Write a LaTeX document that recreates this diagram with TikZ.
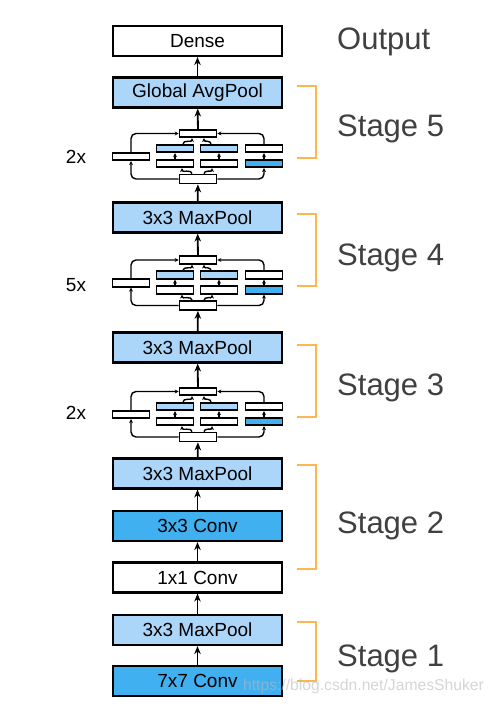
\documentclass[tikz,border=0pt]{standalone}
\usepackage{fontspec}
\setmainfont{Liberation Sans}
\usepackage{tikz}
\usetikzlibrary{arrows.meta, positioning, calc}
\usepackage{xcolor}

\definecolor{lightblue}{RGB}{171,214,250}
\definecolor{darkblue}{RGB}{64,176,240}
\definecolor{stageorange}{RGB}{255,183,77}
\definecolor{stagegray}{RGB}{64,64,64}

% one inception block, #1 = prefix, #2 = y of its output box
\newcommand{\incblock}[2]{%
  \node[ibox] (#1top) at (198,#2) {};
  \node[ibox, fill=lightblue] (#1a1) at (175,#2+15) {};
  \node[ibox, fill=lightblue] (#1b1) at (219,#2+15) {};
  \node[ibox] (#1c1) at (264,#2+15) {};
  \node[ibox] (#1a2) at (175,#2+30) {};
  \node[ibox] (#1b2) at (219,#2+30) {};
  \node[ibox, fill=darkblue] (#1c2) at (264,#2+30) {};
  \node[ibox, minimum height=9pt] (#1bot) at (198,#2+45.5) {};
  \node[ibox] (#1left) at (131,#2+23) {};
  \draw[iarr] (#1bot.west) -| (#1left.south);
  \draw[iarr] (#1left.north) |- (#1top.west);
  \draw[iarr] (#1bot.east) -| (#1c2.south);
  \draw[iarr] (#1c1.north) |- (#1top.east);
  \draw[iarr] (#1a2) -- (#1a1);
  \draw[iarr] (#1b2) -- (#1b1);
  \draw[iarr] (#1c2) -- (#1c1);
  \draw[iarr] ([xshift=-6pt]#1bot.north) to[out=90,in=-90] ([xshift=7pt]#1a2.south);
  \draw[iarr] ([xshift=6pt]#1bot.north) to[out=90,in=-90] ([xshift=-7pt]#1b2.south);
  \draw[iarr] ([xshift=8pt]#1a1.north) to[out=90,in=-90] ([xshift=-6pt]#1top.south);
  \draw[iarr] ([xshift=-8pt]#1b1.north) to[out=90,in=-90] ([xshift=6pt]#1top.south);
}

\begin{document}
\begin{tikzpicture}[x=1pt, y=-1pt,
    mbox/.style={draw, line width=2.2pt, fill=white, minimum width=169pt, minimum height=30pt,
      inner sep=0pt, font=\fontsize{19}{22}\selectfont},
    ibox/.style={draw, line width=1.7pt, fill=white, minimum width=37pt, minimum height=7.5pt, inner sep=0pt},
    marr/.style={line width=1.8pt, -{Stealth[length=8pt, width=6.5pt]}},
    iarr/.style={line width=1.4pt, rounded corners=5pt, -{Stealth[length=4pt, width=3.8pt]}},
    bracket/.style={draw=stageorange, line width=2pt},
    stagelabel/.style={anchor=west, inner sep=0pt, text=stagegray, font=\fontsize{31}{34}\selectfont},
    rep/.style={inner sep=0pt, font=\fontsize{19}{22}\selectfont}]
  \useasboundingbox (0,0) rectangle (494,708);

  % main column
  \node[mbox] (dense) at (197.5,41) {Dense};
  \node[mbox, fill=lightblue] (gap) at (197.5,92.5) {Global AvgPool};
  \node[mbox, fill=lightblue] (mp4) at (197.5,217.5) {3x3 MaxPool};
  \node[mbox, fill=lightblue] (mp3) at (197.5,347.5) {3x3 MaxPool};
  \node[mbox, fill=lightblue] (mp2) at (197.5,473.5) {3x3 MaxPool};
  \node[mbox, fill=darkblue] (conv3) at (197.5,526) {3x3 Conv};
  \node[mbox] (conv1) at (197.5,577.5) {1x1 Conv};
  \node[mbox, fill=lightblue] (mp1) at (197.5,630) {3x3 MaxPool};
  \node[mbox, fill=darkblue] (conv7) at (197.5,681) {7x7 Conv};

  % inception blocks
  \incblock{sf}{133.5}
  \incblock{sv}{260}
  \incblock{sh}{391.5}

  \draw[marr] (conv7) -- (mp1);
  \draw[marr] (mp1) -- (conv1);
  \draw[marr] (conv1) -- (conv3);
  \draw[marr] (conv3) -- (mp2);
  \draw[marr] (mp2) -- (shbot);
  \draw[marr] (shtop) -- (mp3);
  \draw[marr] (mp3) -- (svbot);
  \draw[marr] (svtop) -- (mp4);
  \draw[marr] (mp4) -- (sfbot);
  \draw[marr] (sftop) -- (gap);
  \draw[marr] (gap) -- (dense);

  % repeat counts
  \node[rep] (repf) at (76,157) {2x};
  \node[rep] (repv) at (76,285) {5x};
  \node[rep] (reph) at (76,413) {2x};

  % stage brackets
  \draw[bracket] (297,86) -| (316,158) -- (297,158);
  \draw[bracket] (297,214) -| (316,286) -- (297,286);
  \draw[bracket] (297,345) -| (316,417) -- (297,417);
  \draw[bracket] (297,465) -| (316,569) -- (297,569);
  \draw[bracket] (297,622) -| (316,681) -- (297,681);

  \node[stagelabel] (out) at (337,42) {Output};
  \node[stagelabel] (st5) at (337,129) {Stage 5};
  \node[stagelabel] (st4) at (337,258) {Stage 4};
  \node[stagelabel] (st3) at (337,388) {Stage 3};
  \node[stagelabel] (st2) at (337,526) {Stage 2};
  \node[stagelabel] (st1) at (337,659) {Stage 1};

  % watermark
  \node[inner sep=0pt, text=gray!55, opacity=0.6, font=\fontsize{15.7}{17}\selectfont] (mark) at (363.5,686) {https://blog.csdn.net/JamesShuker};
\end{tikzpicture}
\end{document}
